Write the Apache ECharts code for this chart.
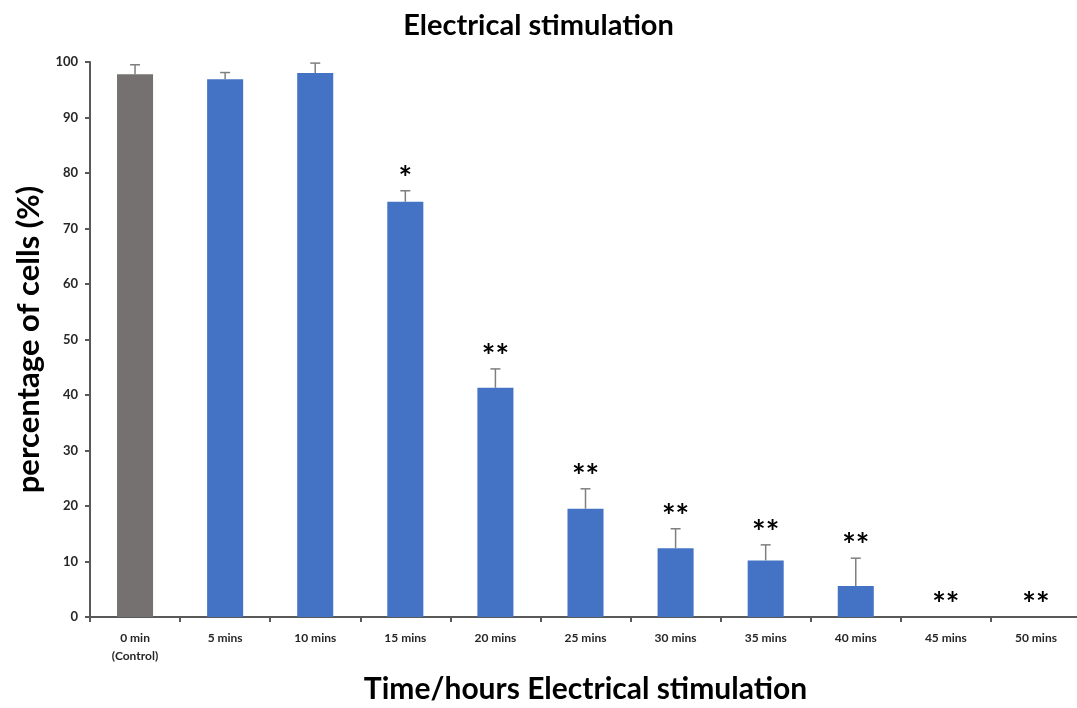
<!DOCTYPE html>
<html lang="en">
<head>
    <meta charset="UTF-8">
    <title>Electrical stimulation</title>
    <script src="https://cdn.jsdelivr.net/npm/echarts@6/dist/echarts.min.js"></script>
    <style>
        html, body { margin: 0; padding: 0; background: #fff; }
    </style>
</head>
<body>
<div id="main" style="width: 1077px;height:708px;"></div>
<script type="text/javascript">
    // data
    var categories = ['0 min\n(Control)', '5 mins', '10 mins', '15 mins', '20 mins', '25 mins',
        '30 mins', '35 mins', '40 mins', '45 mins', '50 mins'];
    var values = [97.8, 96.9, 98.0, 74.8, 41.3, 19.5, 12.4, 10.2, 5.6, 0, 0];
    var errors = [1.7, 1.2, 1.8, 2.0, 3.4, 3.6, 3.5, 2.8, 5.0, 0, 0];
    var signif = ['', '', '', '*', '**', '**', '**', '**', '**', '**', '**'];
    var yTicks = [0, 10, 20, 30, 40, 50, 60, 70, 80, 90, 100];

    var GRAY = '#767171', BLUE = '#4472C4', AXIS = '#595959';
    var FONT = 'Lato';

    var barData = values.map(function (v, i) {
        return { value: v, itemStyle: { color: i === 0 ? GRAY : BLUE } };
    });
    var errData = values.map(function (v, i) {
        return [i, v, errors[i], signif[i]];
    });

    // error bars + significance stars
    function renderErr(params, api) {
        var i = api.value(0), v = api.value(1), e = api.value(2);
        var s = errData[params.dataIndex][3];
        var base = api.coord([i, v]);
        var top = api.coord([i, v + e]);
        var children = [];
        if (e > 0) {
            children.push({
                type: 'line',
                shape: { x1: base[0], y1: base[1], x2: top[0], y2: top[1] },
                style: { stroke: '#7f7f7f', lineWidth: 1.5 }
            });
            children.push({
                type: 'line',
                shape: { x1: top[0] - 5, y1: top[1], x2: top[0] + 5, y2: top[1] },
                style: { stroke: '#7f7f7f', lineWidth: 1.5 }
            });
        }
        if (s) {
            children.push({
                type: 'text',
                style: {
                    text: s, x: top[0], y: top[1] - 11,
                    align: 'center', verticalAlign: 'middle',
                    font: 'bold 32px ' + FONT, fill: '#000'
                }
            });
        }
        return { type: 'group', children: children };
    }

    var option = {
        animation: false,
        backgroundColor: '#fff',
        title: {
            text: 'Electrical stimulation',
            left: 'center',
            top: 6,
            textStyle: { fontFamily: FONT, fontSize: 29, fontWeight: 'bold', color: '#000' }
        },
        grid: { left: 90, right: -4, top: 62, bottom: 91, outerBoundsMode: 'none', containLabel: false },
        xAxis: {
            type: 'category',
            data: categories,
            name: 'Time/hours Electrical stimulation',
            nameLocation: 'middle',
            nameGap: 57,
            nameTextStyle: { fontFamily: FONT, fontSize: 30, fontWeight: 'bold', color: '#000' },
            axisLine: { lineStyle: { color: AXIS, width: 2 } },
            axisTick: { show: true, length: 5, lineStyle: { color: AXIS, width: 2 } },
            axisLabel: {
                fontFamily: FONT, fontSize: 12, fontWeight: 'bold', color: '#262626',
                margin: 12, lineHeight: 18, interval: 0
            }
        },
        yAxis: {
            type: 'value',
            min: 0, max: 100, interval: 10,
            name: 'percentage of cells (%)',
            nameLocation: 'middle',
            nameGap: 43,
            nameTextStyle: { fontFamily: FONT, fontSize: 31, fontWeight: 'bold', color: '#000' },
            splitLine: { show: false },
            axisLine: { show: true, lineStyle: { color: AXIS, width: 2 } },
            axisTick: { show: true, length: 5, lineStyle: { color: AXIS, width: 2 } },
            axisLabel: {
                fontFamily: FONT, fontSize: 13, fontWeight: 'bold', color: '#262626', margin: 12,
                formatter: function (v) { return yTicks.indexOf(v) >= 0 ? String(v) : ''; }
            }
        },
        series: [
            {
                type: 'bar',
                data: barData,
                barWidth: '40%'
            },
            {
                type: 'custom',
                data: errData,
                renderItem: renderErr,
                z: 3
            }
        ]
    };

    var myChart = echarts.init(document.getElementById('main'));
    myChart.setOption(option);
</script>
</body>
</html>
